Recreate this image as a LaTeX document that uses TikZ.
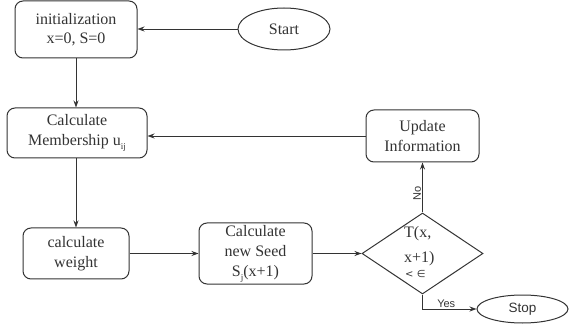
\documentclass[tikz,border=0pt]{standalone}
\usepackage{fontspec}
\setmainfont{Liberation Serif}
\setsansfont{Liberation Sans}
\newfontfamily\dejavu{DejaVu Sans}
\usetikzlibrary{arrows.meta,shapes.geometric}
\definecolor{ink}{HTML}{333333}
\tikzset{
  box/.style={draw=ink, line width=1pt, rounded corners=8pt, inner sep=0pt,
    align=center, text=ink, font=\fontsize{16}{20}\selectfont},
  oval/.style={draw=ink, line width=1pt, ellipse, inner sep=0pt, text=ink},
  flow/.style={draw=ink, line width=0.9pt, -{Stealth[length=7pt,width=5pt]}},
  small/.style={font=\sffamily\fontsize{11}{11}\selectfont, text=ink, inner sep=1pt}
}
\newcommand{\lowsub}[1]{\raisebox{-4pt}{\fontsize{9}{9}\selectfont #1}}
\begin{document}
\begin{tikzpicture}[x=1pt,y=-1pt]
\useasboundingbox (0,0) rectangle (571,326);
\node[box, minimum width=122pt, minimum height=57pt, font=\fontsize{16}{18.5}\selectfont] (init) at (76,29.5) {initialization\\x=0, S=0};
\node[oval, minimum width=92pt, minimum height=42pt, font=\fontsize{16}{16}\selectfont] (start) at (284,29) {Start};
\node[box, minimum width=140pt, minimum height=50pt] (mem) at (77,133) {Calculate\\Membership u\lowsub{ij}};
\node[box, minimum width=113pt, minimum height=52pt] (upd) at (422.5,136) {Update\\Information};
\node[box, minimum width=106pt, minimum height=51pt] (wt) at (76,253.5) {calculate\\weight};
\node[box, minimum width=113pt, minimum height=61pt] (seed) at (255.5,253.5) {Calculate\\new Seed\\S\lowsub{j}(x+1)};
\node[draw=ink, line width=1pt, diamond, inner sep=0pt, minimum width=121pt, minimum height=81pt] (dia) at (422.5,253.5) {};
\node[anchor=base west, inner sep=0pt, text=ink, font=\fontsize{16}{16}\selectfont] (t1) at (404,238) {T(x,};
\node[anchor=base west, inner sep=0pt, text=ink, font=\fontsize{16}{16}\selectfont] (t2) at (404,262) {x+1)};
\node[anchor=base west, inner sep=0pt, text=ink, font=\dejavu\fontsize{10}{10}\selectfont] (t3) at (405,277) {< ∈};
\node[oval, minimum width=91pt, minimum height=28pt, font=\sffamily\fontsize{13.5}{13.5}\selectfont] (stop) at (522.5,309) {Stop};

\draw[flow] (start.west) -- (start.west -| init.east);
\draw[flow] (init.south) -- (init.south |- mem.north);
\draw[flow] (upd.west) -- (upd.west -| mem.east);
\draw[flow] (mem.south -| init.south) -- (init.south |- wt.north);
\draw[flow] (wt.east) -- (wt.east -| seed.west);
\draw[flow] (seed.east) -- (dia.west);
\draw[flow] (dia.north) -- node[small, rotate=90, anchor=south, pos=0.38] (no) {No} (upd.south);
\draw[flow] (dia.south) |- node[small, anchor=south, pos=0.72] (yes) {Yes} (stop.west);
\end{tikzpicture}
\end{document}
